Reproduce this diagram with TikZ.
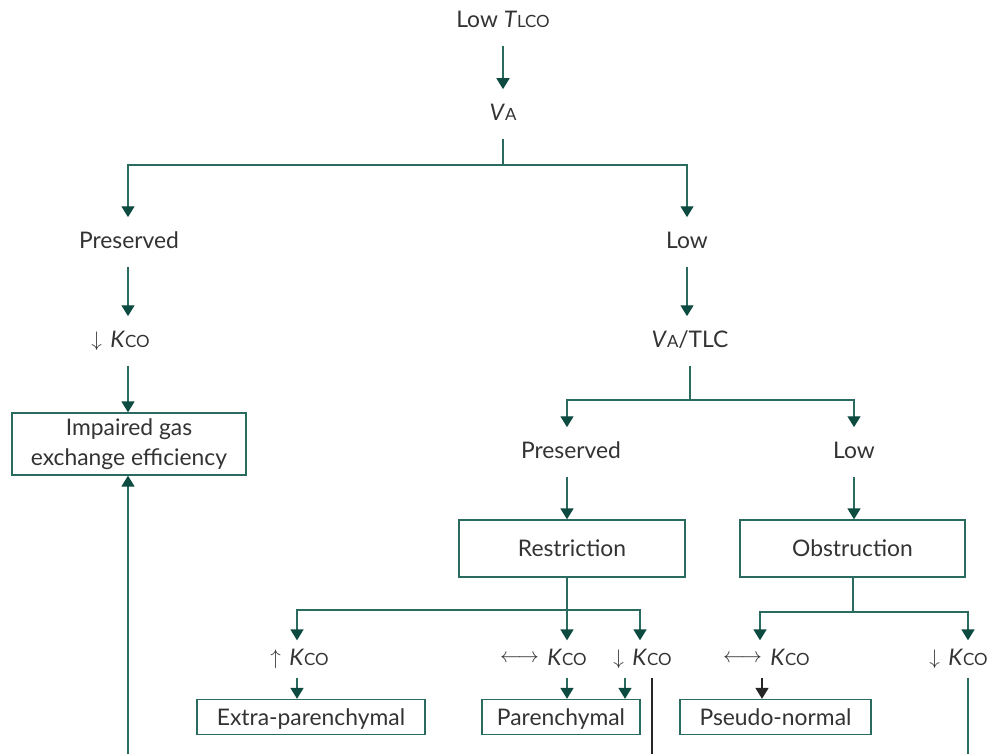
\documentclass[tikz,border=0pt]{standalone}
\usepackage{fontspec}
\setmainfont{Lato}
\usetikzlibrary{arrows.meta}
\definecolor{lgreen}{HTML}{2A6B5F}
\definecolor{dgreen}{HTML}{0D4B40}
\definecolor{txtgray}{HTML}{333333}
\newcommand{\lo}[1]{{\fontsize{9.6}{11}\selectfont #1}}
\newcommand{\kco}{\textit{K}\lo{CO}}

\begin{document}
\begin{tikzpicture}[x=0.02cm,y=-0.02cm,color=lgreen,text=txtgray,
	font=\fontsize{13}{15}\selectfont,line width=0.8pt,
	txt/.style={inner xsep=2pt,inner ysep=8pt,text height=9.5pt,text depth=2pt},
	row/.style={txt,inner ysep=4.5pt},
	box/.style={draw=lgreen,inner sep=2pt,align=center},
	sbox/.style={box,text height=10.4pt,text depth=1pt},
	arr/.style={-{Triangle[width=7.4pt,length=6.2pt,color=dgreen]}},
	blarr/.style={black!85,-{Triangle[width=7.4pt,length=6.2pt,color=black!85]}}]
\useasboundingbox (0,0) rectangle (993,754);
\node[txt] (low) at (503,21) {Low \textit{T}\lo{LCO}};
\node[txt] (va) at (503,114) {\textit{V}\lo{A}};
\node[txt] (presl) at (129,242) {Preserved};
\node[txt] (lowr) at (687,242) {Low};
\node[txt,label={[inner sep=2pt]left:$\downarrow$}] (kcol) at (130,341) {\kco};
\node[box,minimum width=4.68cm,minimum height=1.24cm] (imp) at (129,444) {Impaired gas\\[2pt]exchange efficiency};
\node[txt] (vatlc) at (690,341) {\textit{V}\lo{A}/TLC};
\node[txt] (presm) at (571,452) {Preserved};
\node[txt] (lowm) at (854,452) {Low};
\node[sbox,minimum width=4.52cm,minimum height=1.14cm] (restr) at (572,548.5) {Restriction};
\node[sbox,minimum width=4.5cm,minimum height=1.14cm] (obstr) at (852.5,548.5) {Obstruction};
\node[row,label={[inner sep=2pt]left:$\uparrow$}] (kcoa) at (309,659) {\kco};
\node[row,label={[inner sep=2pt]left:$\longleftrightarrow$}] (kcob) at (567,659) {\kco};
\node[row,label={[inner sep=2pt]left:$\downarrow$}] (kcoc) at (652,659) {\kco};
\node[row,label={[inner sep=2pt]left:$\longleftrightarrow$}] (kcod) at (790,659) {\kco};
\node[row,label={[inner sep=2pt]left:$\downarrow$}] (kcoe) at (968,659) {\kco};
\node[sbox,minimum width=4.56cm,minimum height=0.7cm] (extra) at (311,717) {Extra-parenchymal};
\node[sbox,minimum width=3.16cm,minimum height=0.7cm] (paren) at (561,717) {Parenchymal};
\node[sbox,minimum width=3.82cm,minimum height=0.7cm] (pseudo) at (775.5,717) {Pseudo-normal};
\coordinate (s1) at (503,165);
\coordinate (s2) at (690,400);
\coordinate (s3) at (567,610);
\coordinate (s4) at (853,612);
\coordinate (e1) at (128,754);
\coordinate (e2) at (652,754);
\coordinate (e3) at (968,754);
\draw[arr] (low) -- (va);
\draw (va) -- (s1);
\draw[arr] (s1) -| (128,0 |- presl.north);
\draw[arr] (s1) -| (lowr);
\draw[arr] (128,0 |- presl.south) -- (128,0 |- kcol.north);
\draw[arr] (128,0 |- kcol.south) -- (128,0 |- imp.north);
\draw[arr] (e1) -- (imp.south -| e1);
\draw[arr] (lowr) -- (vatlc.north -| lowr);
\draw (vatlc) -- (s2);
\draw[arr] (s2) -| (567,0 |- presm.north);
\draw[arr] (s2) -| (lowm);
\draw[arr] (567,0 |- presm.south) -- (567,0 |- restr.north);
\draw[arr] (lowm) -- (obstr.north -| lowm);
\draw (restr.south -| s3) -- (s3);
\draw[arr] (s3) -- (kcob);
\draw[arr] (s3) -| (297,0 |- kcoa.north);
\draw[arr] (s3) -| (640,0 |- kcoc.north);
\draw[arr] (297,0 |- kcoa.south) -- (297,0 |- extra.north);
\draw[arr] (kcob) -- (paren.north -| kcob);
\draw[arr] (625,0 |- kcoc.south) -- (625,0 |- paren.north);
\draw[black!85] (kcoc.south) -- (e2);
\draw (obstr.south -| s4) -- (s4);
\draw[arr] (s4) -| (760,0 |- kcod.north);
\draw[arr] (s4) -| (kcoe);
\draw[blarr] (762,0 |- kcod.south) -- (762,0 |- pseudo.north);
\draw (kcoe.south -| e3) -- (e3);
\end{tikzpicture}
\end{document}
